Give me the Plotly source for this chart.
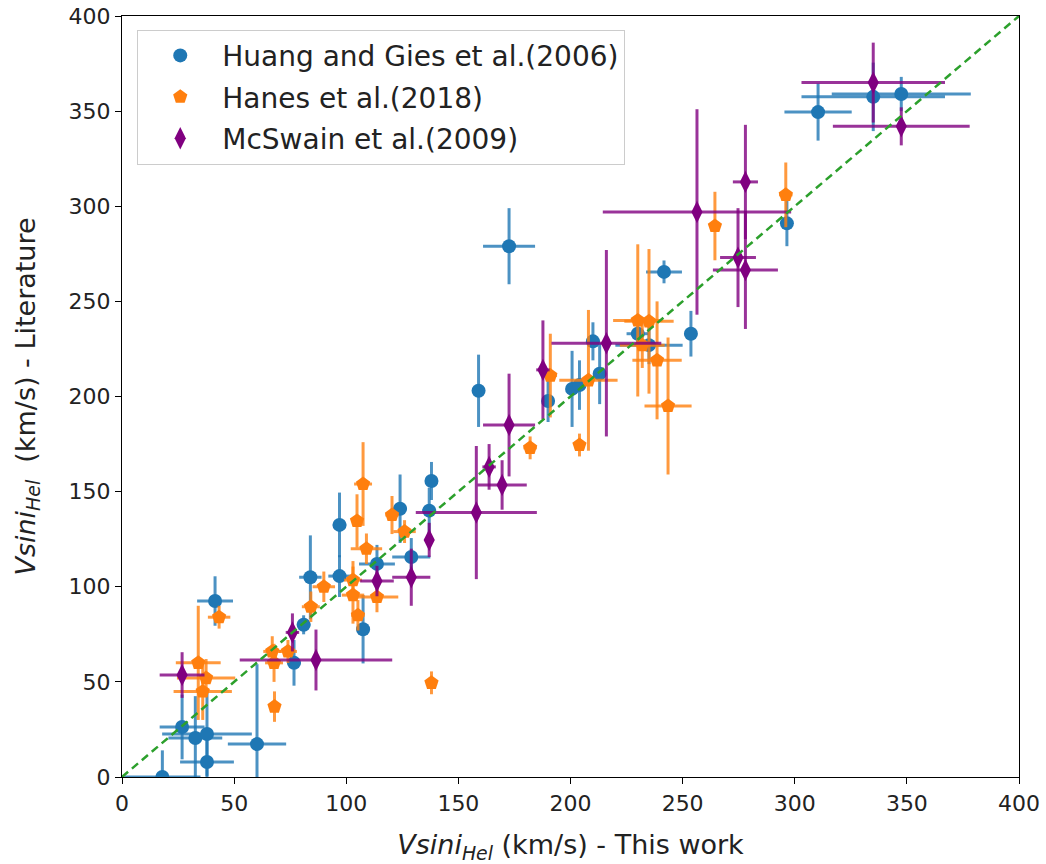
import plotly.graph_objects as go

# Huang and Gies et al.(2006)
huang_x = [18, 26.8, 32.7, 37.9, 37.9, 60.2, 41.5, 76.7, 81, 84, 97, 97, 107.5, 113.7, 129, 124, 137, 138,
           159, 172.6, 190, 200.7, 204, 213, 210, 230, 235, 241.7, 253.7, 296.5, 310.4, 335, 347.5]
huang_y = [0, 26.3, 20.5, 22.6, 7.9, 17.3, 92.5, 60, 80, 105, 132.5, 105.6, 77.7, 112, 115.6, 141, 140, 155.6,
           203, 279, 197.6, 204, 206, 212, 229, 233, 227, 265.5, 233, 291, 349.5, 357.5, 359]
huang_xerr = [17, 10, 12, 20, 12, 13, 8, 3, 3, 5, 3, 5, 3, 8, 8.5, 3, 3, 2,
              2, 11.6, 2, 2, 2, 2, 3, 5, 15, 8, 2, 2, 15, 32, 31]
huang_yerr = [14, 17, 22, 22, 15, 42, 13, 12, 5, 22, 17, 11, 18, 10, 10, 18, 12, 10,
              19, 20, 11, 20, 13, 16, 10, 6, 10, 6, 12, 12, 15, 18, 9]

# Hanes et al.(2018)
hanes_x = [34, 37.5, 36, 43.3, 67, 67.8, 68, 74, 84.2, 90, 103, 103, 105.2, 104.8, 107.5, 109, 113.7, 120.4,
           126, 138, 182, 191, 204, 208, 230, 235, 232, 238.6, 243.5, 264.4, 296]
hanes_y = [60, 52, 45, 84, 66, 60, 37, 66, 89.5, 100, 103.5, 95.6, 85, 134.6, 154, 120, 94.6, 137.7,
           129, 49.5, 173, 211, 174.5, 208.5, 240, 239.5, 227, 219, 195, 289.6, 306]
hanes_xerr = [10, 13, 13, 5, 4, 4, 2, 4, 4, 5, 4, 5, 3, 2, 4, 7, 9.5, 3,
              5, 2, 3, 3, 2, 13, 11, 11, 10, 11, 10.5, 2, 3]
hanes_yerr = [30, 10, 15, 6, 8, 10, 8, 6, 8, 8, 10, 15, 8, 14, 22, 8, 8, 10,
              6, 6, 6, 22, 6, 37, 40, 38, 12, 31, 36, 18, 17]

# McSwain et al.(2009)
mcs_x = [26.8, 76, 86.5, 113.7, 129, 137, 158, 163.7, 169.5, 172.6, 187.7, 216, 256.4, 274.7, 278, 278, 335, 347.5]
mcs_y = [53.6, 76, 61.5, 103, 105, 124.6, 139, 163, 153.5, 185, 214, 228, 297, 273, 312.8, 266.5, 365, 342]
mcs_xerr = [10, 3, 34, 7.5, 8.5, 2, 27, 3, 11, 11.6, 3, 24.5, 42, 8, 5.6, 14.5, 32, 30.5]
mcs_yerr = [12, 10, 16, 8, 15, 9, 35, 12, 13, 27, 26, 49, 54, 26, 30, 31, 21, 10]

diag = [0, 400]

FONT = "DejaVu Sans"

series = [
    ("Huang and Gies et al.(2006)", huang_x, huang_y, huang_xerr, huang_yerr, "#1f77b4", "rgba(31,119,180,0.8)", "circle", 14),
    ("Hanes et al.(2018)", hanes_x, hanes_y, hanes_xerr, hanes_yerr, "#ff7f0e", "rgba(255,127,14,0.8)", "pentagon", 15),
    ("McSwain et al.(2009)", mcs_x, mcs_y, mcs_xerr, mcs_yerr, "#800080", "rgba(128,0,128,0.8)", "diamond-tall", 16),
]

fig = go.Figure()
for i, (name, xs, ys, xe, ye, col, ecol, sym, sz) in enumerate(series):
    fig.add_trace(go.Scatter(
        x=xs, y=ys, mode="markers", name=name, legendgroup=f"g{i}",
        marker=dict(color=col, symbol=sym, size=sz, line=dict(width=0)),
        error_x=dict(type="data", array=xe, visible=True, color=ecol, thickness=3, width=0),
        error_y=dict(type="data", array=ye, visible=True, color=ecol, thickness=3, width=0),
    ))

fig.add_trace(go.Scatter(
    x=diag, y=diag, mode="lines", showlegend=False,
    line=dict(color="#2ca02c", dash="8px,5px", width=2.5),
))

axis_common = dict(
    range=[0, 400], showgrid=False, zeroline=False, showline=True, mirror=True,
    linecolor="black", linewidth=1.2, ticks="outside", ticklen=6, tickwidth=1.2,
    tickcolor="black", dtick=50, tick0=0, automargin=False,
    tickfont=dict(family=FONT, size=22, color="#222222"),
)

fig.update_xaxes(**axis_common,
                 title=dict(text="<i>Vsini</i><sub><i>Hel</i></sub> (km/s) - This work",
                            font=dict(family=FONT, size=27, color="#222222"), standoff=20))
fig.update_yaxes(**axis_common,
                 title=dict(text="<i>Vsini</i><sub><i>Hel</i></sub>  (km/s) - Literature",
                            font=dict(family=FONT, size=27, color="#222222"), standoff=25))

fig.update_layout(
    width=1046, height=864,
    margin=dict(l=122, r=27, t=16, b=87),
    plot_bgcolor="white", paper_bgcolor="white",
    font=dict(family=FONT, color="#222222"),
    legend=dict(
        x=0.017, y=0.982, xanchor="left", yanchor="top",
        bgcolor="rgba(255,255,255,0.8)", bordercolor="#cccccc", borderwidth=1,
        font=dict(family=FONT, size=28, color="#222222"),
        tracegroupgap=2, traceorder="grouped", itemwidth=74,
    ),
)

fig.write_html("out.html")
